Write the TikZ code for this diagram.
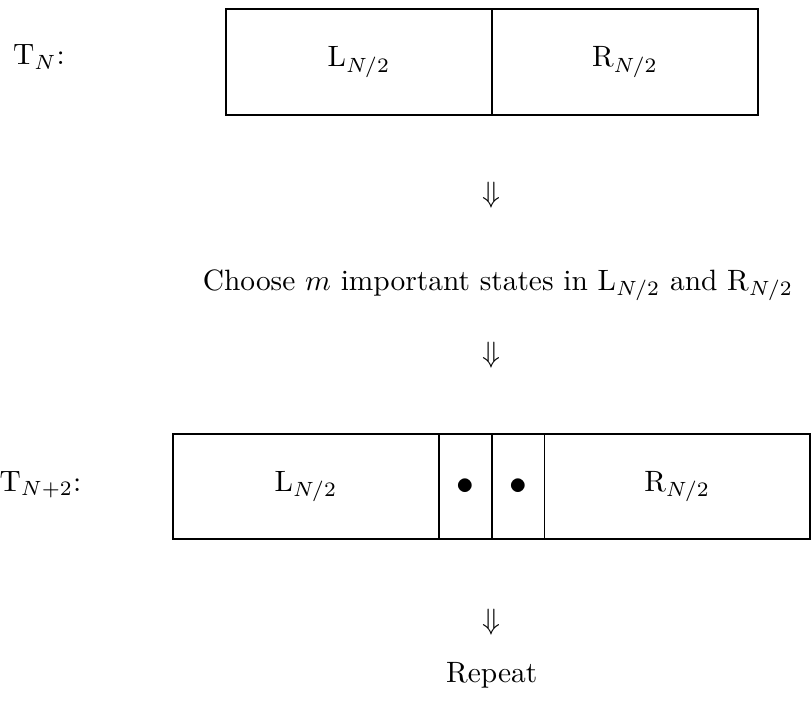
\documentclass[tikz,border=0pt]{standalone}
\newlength\pxu
\setlength\pxu{0.34pt}
\begin{document}
\begin{tikzpicture}[x=\pxu,y=-\pxu,
  cell/.style={draw,line width=0.6pt,rectangle,inner sep=0pt,outer sep=0pt,minimum height=106\pxu},
  lbl/.style={inner sep=0pt}]
\useasboundingbox (0,0) rectangle (812,717);
% top row
\node[lbl] (tn) at (39,57) {T$_N$:};
\node[cell,minimum width=266\pxu] (l1) at (359,62) {L$_{N/2}$};
\node[cell,minimum width=266\pxu] (r1) at (625,62) {R$_{N/2}$};
\node[lbl] (a1) at (491.7,195) {$\Downarrow$};
\node[lbl] (choose) at (498,285) {Choose $m$ important states in L$_{N/2}$ and R$_{N/2}$};
\node[lbl] (a2) at (491.7,355) {$\Downarrow$};
% bottom row
\node[lbl] (tn2) at (40.5,485) {T$_{N+2}$:};
\node[cell,minimum height=105\pxu,minimum width=266\pxu] (l2) at (306,486.5) {L$_{N/2}$};
\node[cell,minimum height=105\pxu,minimum width=52.7\pxu,font=\large] (d1) at (465.35,486.5) {$\bullet$};
\node[cell,minimum height=105\pxu,minimum width=52.7\pxu,font=\large] (d2) at (518.05,486.5) {$\bullet$};
\node[cell,minimum height=105\pxu,minimum width=265.6\pxu] (r2) at (677.2,486.5) {R$_{N/2}$};
\node[lbl] (a3) at (491.7,622) {$\Downarrow$};
\node[lbl] (rep) at (491.7,675) {Repeat};
\end{tikzpicture}
\end{document}
